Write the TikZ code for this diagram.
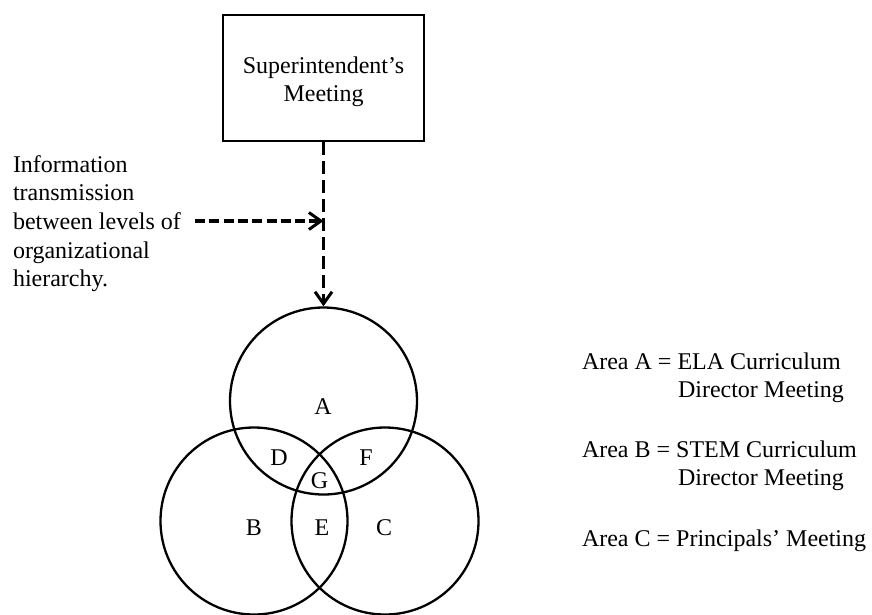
\documentclass[tikz,border=0pt]{standalone}
\usepackage{fontspec}
\setmainfont{Liberation Serif}
\usetikzlibrary{arrows.meta}
\begin{document}
\begin{tikzpicture}[x=1pt,y=-1pt,
  txt/.style={font=\fontsize{24}{28.7}\selectfont, inner sep=0pt, outer sep=0pt},
  line/.style={anchor=base west, txt},
  venn/.style={circle, draw, line width=2.3pt, minimum size=187pt, inner sep=0pt},
  box/.style={draw, line width=2.5pt, minimum width=201pt, minimum height=126pt, inner sep=0pt},
  vdash/.style={line width=3.2pt, dash pattern=on 13pt off 6pt},
  hdash/.style={line width=3.2pt, dash pattern=on 10pt off 4.3pt},
  barb/.style={-{Straight Barb[length=12pt, width=17pt, line width=3pt]}}
]
\useasboundingbox (0,0) rectangle (872,614);

% top box
\node[box] (sup) at (323.5,78) {};
\node[txt, align=center] (suptext) at (323.5,81.75) {Superintendent’s\\Meeting};

% Venn circles
\node[venn] (cA) at (323.5,401) {};
\node[venn] (cB) at (254,521) {};
\node[venn] (cC) at (385,521) {};

% region labels
\node[txt] (lA) at (323,407) {A};
\node[txt] (lD) at (279,458) {D};
\node[txt] (lF) at (366,458) {F};
\node[txt] (lG) at (319.5,481) {G};
\node[txt] (lB) at (254,528) {B};
\node[txt] (lE) at (322,528) {E};
\node[txt] (lC) at (384,528) {C};

% vertical dashed arrow
\draw[vdash, barb] (sup.south) -- (cA.north);

% left explanation
\node[line] (i1) at (13,172) {Information};
\node[line] (i2) at (13,200.7) {transmission};
\node[line] (i3) at (13,229.4) {between levels of};
\node[line] (i4) at (13,258.1) {organizational};
\node[line] (i5) at (13,286.8) {hierarchy.};

\coordinate (hstart) at (195,221);
\draw[hdash, barb] (hstart) -- (hstart -| sup.south);

% legend
\node[line] (la1) at (582,369) {Area A = ELA Curriculum};
\node[line] (la2) at (678,397) {Director Meeting};
\node[line] (lb1) at (582,457) {Area B = STEM Curriculum};
\node[line] (lb2) at (678,485) {Director Meeting};
\node[line] (lc1) at (582,546) {Area C = Principals’ Meeting};
\end{tikzpicture}
\end{document}
